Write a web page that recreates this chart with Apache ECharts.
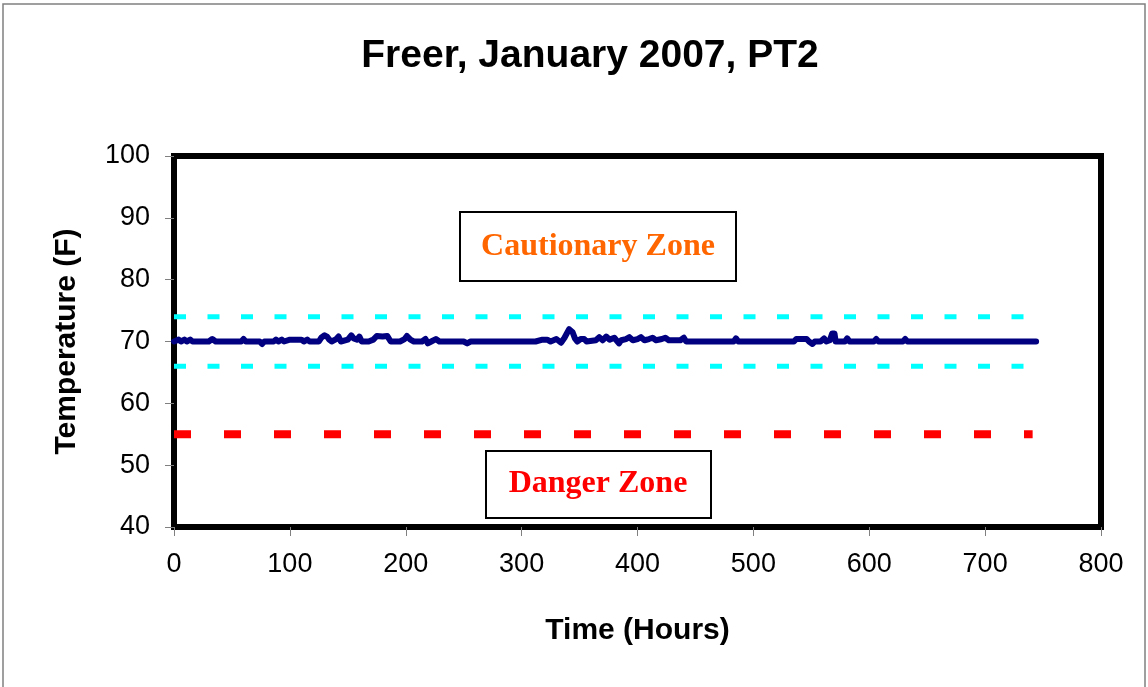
<!DOCTYPE html>
<html>
<head>
<meta charset="utf-8">
<script src="https://cdn.jsdelivr.net/npm/echarts@6/dist/echarts.min.js"></script>
<style>
  html, body { margin: 0; padding: 0; background: #fff; }
  #chart { width: 1148px; height: 687px; }
</style>
</head>
<body>
<div id="chart"></div>
<script>
// hourly readings (only where the trace changes) - PT2, Jan 2007
const hours = [0, 4, 6, 9, 11, 14, 16, 30, 33, 36, 58, 60, 62, 74, 76, 78, 86, 88, 90, 93, 95, 100, 110, 112, 115, 117,
  125, 127, 130, 132, 134, 136, 140, 142, 144, 150, 153, 155, 158, 160, 162, 168, 172, 175, 180, 184, 187,
  195, 199, 201, 204, 207, 214, 217, 219, 222, 226, 229, 250, 253, 256, 312, 318, 322, 325, 330, 334, 337,
  341, 344, 346, 348, 351, 354, 356, 364, 367, 370, 373, 376, 380, 384, 386, 390, 393, 396, 400, 403, 406,
  410, 413, 416, 421, 424, 427, 437, 440, 442, 483, 485, 487, 535, 537, 546, 548, 551, 553, 558, 561, 563,
  566, 568, 570, 571, 579, 581, 583, 604, 606, 608, 629, 631, 633, 744];
const temps = [70.0, 70.3, 70.0, 70.3, 70.0, 70.3, 70.0, 70.0, 70.4, 70.0, 70.0, 70.4, 70.0, 70.0, 69.6, 70.0, 70.0, 70.3, 70.0, 70.3, 70.0, 70.3, 70.3, 70.0, 70.3, 70.0,
  70.0, 70.6, 71.0, 70.8, 70.3, 70.0, 70.4, 70.8, 70.0, 70.3, 71.0, 70.5, 70.3, 70.8, 70.0, 70.0, 70.3, 70.9, 70.8, 70.9, 70.0,
  70.0, 70.4, 70.9, 70.3, 70.0, 70.0, 70.4, 69.7, 70.0, 70.4, 70.0, 70.0, 69.7, 70.0, 70.0, 70.3, 70.3, 70.0, 70.4, 69.8, 70.6,
  72.0, 71.5, 70.5, 70.0, 70.4, 70.4, 70.0, 70.2, 70.7, 70.2, 70.8, 70.3, 70.6, 69.7, 70.2, 70.4, 70.7, 70.2, 70.4, 70.7, 70.2,
  70.4, 70.6, 70.2, 70.4, 70.6, 70.2, 70.2, 70.6, 70.0, 70.0, 70.5, 70.0, 70.0, 70.4, 70.4, 70.0, 69.6, 70.0, 70.0, 70.5, 70.0,
  70.2, 71.3, 71.3, 70.0, 70.0, 70.5, 70.0, 70.0, 70.4, 70.0, 70.0, 70.4, 70.0, 70.0];

const upperLimit = 74;
const lowerLimit = 66;
const dangerLimit = 55;
const limitEnd = 741;

const xTicks = [0, 100, 200, 300, 400, 500, 600, 700, 800];
const yTicks = [40, 50, 60, 70, 80, 90, 100];

const chart = echarts.init(document.getElementById('chart'));

const tempData = hours.map((h, i) => [h, temps[i]]);

const option = {
  backgroundColor: '#fff',
  animation: false,
  title: {
    text: 'Freer, January 2007, PT2',
    left: 585,
    textAlign: 'center',
    top: 32,
    textStyle: { fontFamily: 'Liberation Sans', fontWeight: 'bold', fontSize: 39, color: '#000' }
  },
  grid: {
    left: 174, right: 47, top: 156, bottom: 160,
    show: true,
    borderColor: '#000',
    borderWidth: 6,
    backgroundColor: 'transparent'
  },
  xAxis: {
    type: 'value',
    min: xTicks[0],
    max: xTicks[xTicks.length - 1],
    interval: 100,
    name: 'Time (Hours)',
    nameLocation: 'middle',
    nameGap: 89,
    nameTextStyle: { fontFamily: 'Liberation Sans', fontWeight: 'bold', fontSize: 30, color: '#000' },
    axisLine: { show: false },
    axisTick: { show: true, length: 9, lineStyle: { color: '#808080', width: 1 } },
    axisLabel: { margin: 24, fontFamily: 'Liberation Sans', fontSize: 27, color: '#000' },
    splitLine: { show: false }
  },
  yAxis: {
    type: 'value',
    min: yTicks[0],
    max: yTicks[yTicks.length - 1],
    interval: 10,
    name: 'Temperature (F)',
    nameLocation: 'middle',
    nameGap: 92,
    nameTextStyle: { fontFamily: 'Liberation Sans', fontWeight: 'bold', fontSize: 30, color: '#000' },
    axisLine: { show: false },
    axisTick: { show: true, length: 9, lineStyle: { color: '#808080', width: 1 } },
    axisLabel: { margin: 24, fontFamily: 'Liberation Sans', fontSize: 27, color: '#000' },
    splitLine: { show: false }
  },
  series: [
    {
      name: 'upper',
      type: 'line',
      data: [[0, upperLimit], [limitEnd, upperLimit]],
      showSymbol: false,
      lineStyle: { color: '#00FFFF', width: 5, type: [12, 21.5] },
      silent: true
    },
    {
      name: 'lower',
      type: 'line',
      data: [[0, lowerLimit], [limitEnd, lowerLimit]],
      showSymbol: false,
      lineStyle: { color: '#00FFFF', width: 5, type: [12, 21.5] },
      silent: true
    },
    {
      name: 'danger',
      type: 'line',
      data: [[0, dangerLimit], [limitEnd, dangerLimit]],
      showSymbol: false,
      lineStyle: { color: '#FF0000', width: 8, type: [17, 33] },
      silent: true
    },
    {
      name: 'PT2',
      type: 'line',
      data: tempData,
      showSymbol: false,
      lineStyle: { color: '#000080', width: 6, join: 'round', cap: 'round' },
      z: 5
    }
  ],
  graphic: [
    {
      type: 'rect',
      shape: { x: 3, y: 4, width: 1142, height: 700 },
      style: { fill: 'none', stroke: '#808080', lineWidth: 1.5 },
      silent: true
    },
    {
      type: 'group',
      left: 459, top: 211,
      children: [
        { type: 'rect', shape: { x: 0, y: 0, width: 276, height: 69 },
          style: { fill: '#fff', stroke: '#000', lineWidth: 2 } },
        { type: 'text', x: 138, y: 35,
          style: { text: 'Cautionary Zone', fill: '#FF6600', align: 'center', verticalAlign: 'middle',
            font: 'bold 32px "Liberation Serif"' } }
      ]
    },
    {
      type: 'group',
      left: 485, top: 450,
      children: [
        { type: 'rect', shape: { x: 0, y: 0, width: 225, height: 67 },
          style: { fill: '#fff', stroke: '#000', lineWidth: 2 } },
        { type: 'text', x: 112, y: 33,
          style: { text: 'Danger Zone', fill: '#FF0000', align: 'center', verticalAlign: 'middle',
            font: 'bold 32px "Liberation Serif"' } }
      ]
    }
  ]
};

chart.setOption(option);
</script>
</body>
</html>
